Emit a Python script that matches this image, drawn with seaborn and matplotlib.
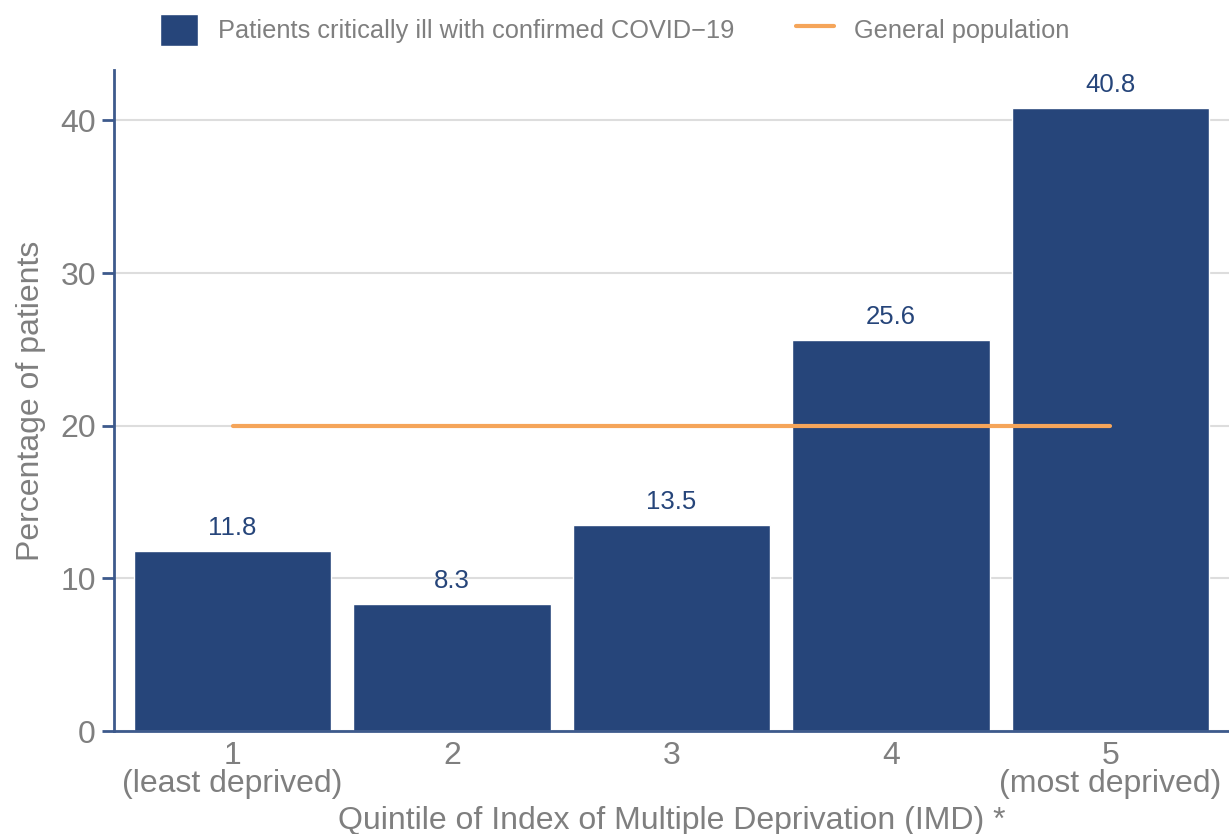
import numpy as np
import pandas as pd
import matplotlib.pyplot as plt
import seaborn as sns

# Data
quintiles = ["1\n(least deprived)", "2", "3", "4", "5\n(most deprived)"]
critically_ill = [11.8, 8.3, 13.5, 25.6, 40.8]
general_population = [20, 20, 20, 20, 20]
y_ticks = [0, 10, 20, 30, 40]

bar_color = "#26457a"
line_color = "#f5a55a"
text_grey = "#7f7f7f"
spine_color = "#3d5a8c"

sns.set_theme(style="white")
plt.rcParams["font.family"] = ["Liberation Sans", "DejaVu Sans"]

df = pd.DataFrame({"quintile": quintiles, "pct": critically_ill})

fig = plt.figure(figsize=(12.29, 8.34), dpi=100)
ax = fig.add_axes([0.0928, 0.1235, 0.9072, 0.7925])

sns.barplot(data=df, x="quintile", y="pct", color=bar_color, saturation=1,
            width=0.9, ax=ax, label="Patients critically ill with confirmed COVID\u221219")
sns.lineplot(x=np.arange(len(quintiles)), y=general_population, color=line_color,
             linewidth=3, ax=ax, label="General population")

# Value labels above bars
for bar, val in zip(ax.patches, critically_ill):
    ax.annotate(f"{val:.1f}", (bar.get_x() + bar.get_width() / 2, bar.get_height()),
                xytext=(0, 8), textcoords="offset points", ha="center", va="bottom",
                fontsize=18.5, color=bar_color)

ax.set_ylim(0, 43.3)
ax.set_xlim(-0.54, 4.54)
ax.set_yticks(y_ticks)
ax.yaxis.grid(True, color="#dddddd", linewidth=1.5)
ax.set_axisbelow(True)

for side in ["top", "right"]:
    ax.spines[side].set_visible(False)
for side in ["left", "bottom"]:
    ax.spines[side].set_color(spine_color)
    ax.spines[side].set_linewidth(2)

ax.tick_params(axis="y", left=True, length=9, width=2, color=spine_color,
               labelsize=23, labelcolor=text_grey, pad=4)
ax.tick_params(axis="x", bottom=False, labelsize=23, labelcolor=text_grey, pad=1)
for lbl in ax.get_xticklabels():
    lbl.set_linespacing(0.92)

ax.set_xlabel("Quintile of Index of Multiple Deprivation (IMD) *", fontsize=23,
              color=text_grey, labelpad=5)
ax.set_ylabel("Percentage of patients", fontsize=23, color=text_grey, labelpad=10)

# Legend above the plot, bars first
handles, labels = ax.get_legend_handles_labels()
ax.get_legend().remove()
order = [labels.index(l) for l in sorted(labels, key=lambda s: not s.startswith("Patients"))]
leg = fig.legend([handles[i] for i in order], [labels[i] for i in order],
                 loc="center", bbox_to_anchor=(0.5, 0.964), ncol=2,
                 frameon=False, fontsize=18.3, handlelength=1.5, handleheight=1.6,
                 columnspacing=2.4, handletextpad=0.8)
for t in leg.get_texts():
    t.set_color(text_grey)

plt.savefig("out.png", dpi=100)
